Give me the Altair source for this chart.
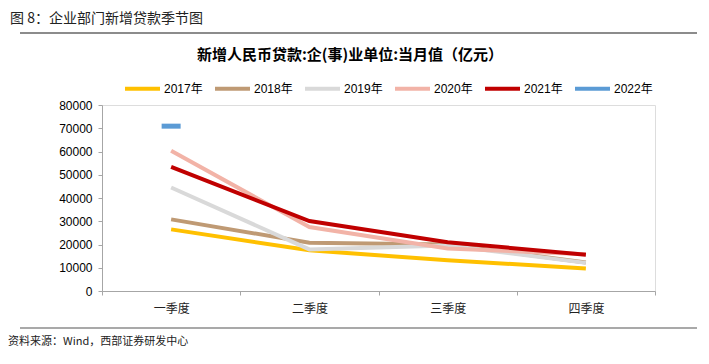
import altair as alt
import pandas as pd

quarters = ["一季度", "二季度", "三季度", "四季度"]
years = ["2017年", "2018年", "2019年", "2020年", "2021年", "2022年"]
colors = ["#FFC000", "#BF9A74", "#D9D9D9", "#F2B3A7", "#C00000", "#5B9BD5"]

v2017 = [26500, 17500, 13200, 9700]
v2018 = [30800, 20800, 20000, 12300]
v2019 = [44500, 17900, 19600, 12100]
v2020 = [60300, 27500, 18300, 15800]
v2021 = [53400, 30100, 21000, 15600]
v2022 = [70900]

header = "图 8：企业部门新增贷款季节图"
title = "新增人民币贷款:企(事)业单位:当月值（亿元）"
source = "资料来源：Wind，西部证券研发中心"

rows = []
for y, vals in zip(years[:5], [v2017, v2018, v2019, v2020, v2021]):
    for q, v in zip(quarters, vals):
        rows.append({"年份": y, "季度": q, "值": v})
df_lines = pd.DataFrame(rows)
df_2022 = pd.DataFrame({"年份": ["2022年"] * len(v2022), "季度": quarters[:len(v2022)], "值": v2022})

FONT = "Liberation Sans, Noto Sans CJK SC"
CJK = "Noto Sans CJK SC"

color_scale = alt.Scale(domain=years, range=colors)
x_enc = alt.X("季度:N", sort=quarters,
              scale=alt.Scale(type="band", domain=quarters, paddingInner=0, paddingOuter=0),
              axis=alt.Axis(title=None, tickBand="extent", labelFont=CJK, labelFontSize=12,
                            labelColor="#222222", labelPadding=8, domainColor="#A6A6A6",
                            tickColor="#A6A6A6", tickSize=4, labelAngle=0, grid=False))
y_enc = alt.Y("值:Q", scale=alt.Scale(domain=[0, 80000], nice=False),
              axis=alt.Axis(title=None, values=list(range(0, 80001, 10000)), format="d",
                            labelFont=FONT, labelFontSize=12, labelColor="#000000",
                            labelOverlap=False, labelBound=False,
                            domainColor="#A6A6A6", tickColor="#A6A6A6", tickSize=4,
                            labelPadding=6, grid=False))
color_enc = alt.Color("年份:N", scale=color_scale,
                      legend=alt.Legend(title=None, orient="none", direction="horizontal",
                                        columns=6, legendX=21, legendY=-36,
                                        symbolType="stroke", symbolSize=1225,
                                        symbolStrokeWidth=4, labelFont=FONT, labelFontSize=12,
                                        labelColor="#000000", columnPadding=4, labelOffset=2,
                                        padding=0))

lines = alt.Chart(df_lines).mark_line(strokeWidth=4).encode(x=x_enc, y=y_enc, color=color_enc)
ticks = alt.Chart(df_2022).mark_tick(thickness=5, size=19, opacity=1).encode(
    x=x_enc, y=y_enc, color=color_enc)

def txt(s, x, y, size, weight="normal", align="left", color="#000000"):
    return alt.Chart(pd.DataFrame({"t": [s]})).mark_text(
        font=CJK, fontSize=size, fontWeight=weight, align=align, baseline="middle",
        color=color).encode(text="t:N", x=alt.value(x), y=alt.value(y))

def hline(x1, x2, y, color, w):
    return alt.Chart(pd.DataFrame({"a": [0]})).mark_rule(color=color, strokeWidth=w).encode(
        x=alt.value(x1), x2=alt.value(x2), y=alt.value(y))

chart = alt.layer(
    hline(-82, 595, -72, "#8C8C8C", 2),
    hline(-82, 595, 223, "#8C8C8C", 1.5),
    txt(header, -92, -86, 14, color="#222222"),
    txt(title, 248, -50, 15, "bold", "center"),
    txt(source, -94, 237, 11, color="#222222"),
    lines,
    ticks,
).properties(
    width=553, height=186,
    autosize=alt.AutoSizeParams(type="none"),
    padding={"left": 94, "top": 97, "right": 46, "bottom": 65},
).configure_view(stroke=None).configure(background="#FFFFFF")

chart.save("out.html", embed_options={"renderer": "svg", "actions": False})
